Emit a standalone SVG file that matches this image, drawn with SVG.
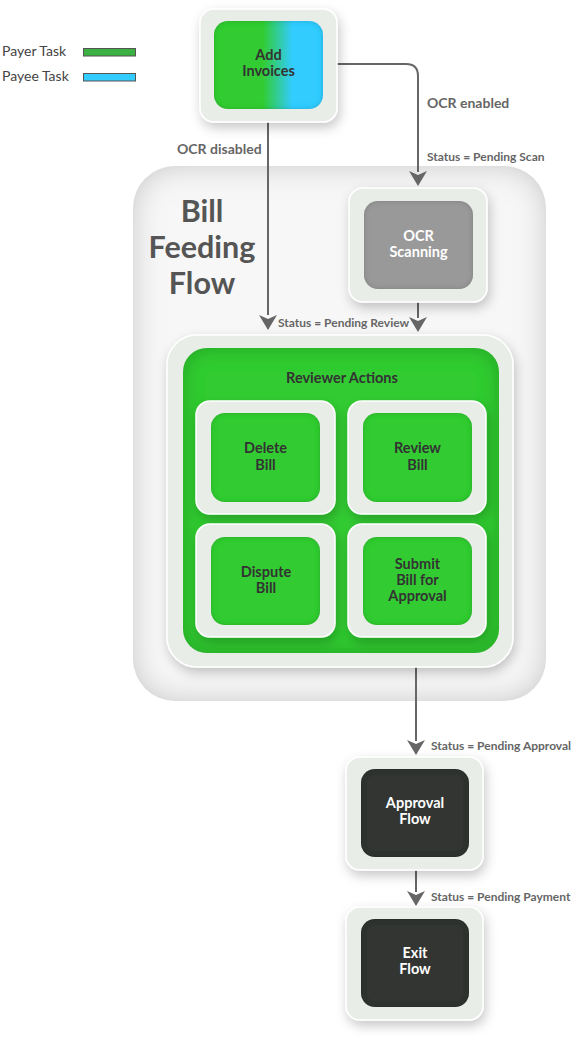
<svg xmlns="http://www.w3.org/2000/svg" width="572" height="1057" viewBox="0 0 572 1057">
<defs>
  <linearGradient id="addGrad" x1="0" y1="0" x2="1" y2="0">
    <stop offset="0.45" stop-color="#33cc33"/>
    <stop offset="0.72" stop-color="#33ccff"/>
  </linearGradient>
  <filter id="drop" x="-30%" y="-30%" width="160%" height="160%">
    <feDropShadow dx="2" dy="5" stdDeviation="6" flood-color="#000" flood-opacity="0.22"/>
  </filter>
  <filter id="inner" x="-10%" y="-10%" width="120%" height="120%">
    <feFlood flood-color="#000" flood-opacity="0.35"/>
    <feComposite in2="SourceAlpha" operator="out"/>
    <feGaussianBlur stdDeviation="2.5"/>
    <feComposite in2="SourceAlpha" operator="in" result="sh"/>
    <feMerge><feMergeNode in="SourceGraphic"/><feMergeNode in="sh"/></feMerge>
  </filter>
  <filter id="innerBig" x="-10%" y="-10%" width="120%" height="120%">
    <feFlood flood-color="#000" flood-opacity="0.42"/>
    <feComposite in2="SourceAlpha" operator="out"/>
    <feGaussianBlur stdDeviation="10"/>
    <feComposite in2="SourceAlpha" operator="in" result="sh"/>
    <feMerge><feMergeNode in="SourceGraphic"/><feMergeNode in="sh"/></feMerge>
  </filter>
  <filter id="container" x="-10%" y="-10%" width="120%" height="120%">
    <feFlood flood-color="#000" flood-opacity="0.4"/>
    <feComposite in2="SourceAlpha" operator="out"/>
    <feGaussianBlur stdDeviation="15"/>
    <feComposite in2="SourceAlpha" operator="in" result="sh"/>
    <feMerge><feMergeNode in="SourceGraphic"/><feMergeNode in="sh"/></feMerge>
  </filter>
  <style>
    .outer { fill: #e9ede8; stroke: #ffffff; stroke-width: 1.5; }
    .lbl { font-family: Lato, "Liberation Sans", sans-serif; font-weight: bold; font-size: 14.5px; fill: #333; text-anchor: middle; }
    .wlbl { font-family: Lato, "Liberation Sans", sans-serif; font-weight: bold; font-size: 14.5px; fill: #fff; text-anchor: middle; }
    .clbl { font-family: Lato, "Liberation Sans", sans-serif; font-weight: bold; font-size: 14px; fill: #666; }
    .slbl { font-family: Lato, "Liberation Sans", sans-serif; font-weight: bold; font-size: 12px; fill: #666; }
    .leg { font-family: Lato, "Liberation Sans", sans-serif; font-size: 14px; fill: #444; }
    .big { font-family: Lato, "Liberation Sans", sans-serif; font-weight: bold; font-size: 30.5px; fill: #555; text-anchor: middle; }
    .conn { fill: none; stroke: #666; stroke-width: 2; }
    .head { fill: #666; }
    .green { fill: #33cc33; }
    .dark { fill: #333632; }
  </style>
</defs>

<g id="legend">
  <text class="leg" x="2" y="56">Payer Task</text>
  <rect x="83.5" y="48.5" width="52" height="7.5" fill="#3cb043" stroke="#555" stroke-width="1"/>
  <text class="leg" x="2" y="81">Payee Task</text>
  <rect x="83.5" y="73.5" width="52" height="7.5" fill="#33ccff" stroke="#555" stroke-width="1"/>
</g>

<g id="bill-feeding-flow">
  <rect x="133" y="166" width="413" height="535" rx="42" fill="#f7f7f7" filter="url(#container)"/>
  <text class="big" x="202" y="222">Bill</text>
  <text class="big" x="202" y="258">Feeding</text>
  <text class="big" x="202" y="294">Flow</text>
</g>

<g id="connectors">
  <path class="conn" d="M268,122 V315"/>
  <path class="head" d="M259,315 L268,319 L277,315 L268,330 Z"/>
  <path class="conn" d="M337,64 H406 Q418,64 418,76 V172"/>
  <path class="head" d="M409,171 L418,175 L427,171 L418,186 Z"/>
  <path class="conn" d="M418,302 V318"/>
  <path class="head" d="M409,317 L418,321 L427,317 L418,332 Z"/>
  <path class="conn" d="M416,637 V741"/>
  <path class="head" d="M407,740 L416,744 L425,740 L416,755 Z"/>
  <path class="conn" d="M416,870 V892"/>
  <path class="head" d="M407,891 L416,895 L425,891 L416,906 Z"/>
  <text class="clbl" x="177" y="154">OCR disabled</text>
  <text class="clbl" x="427" y="108">OCR enabled</text>
  <text class="slbl" x="427" y="161">Status = Pending Scan</text>
  <text class="slbl" x="278" y="327">Status = Pending Review</text>
  <text class="slbl" x="431" y="750">Status = Pending Approval</text>
  <text class="slbl" x="431" y="901">Status = Pending Payment</text>
</g>

<g id="add-invoices">
  <rect class="outer" x="200" y="9" width="137" height="113" rx="14" filter="url(#drop)"/>
  <rect x="214" y="21" width="109" height="88" rx="14" fill="url(#addGrad)" filter="url(#inner)"/>
  <text class="lbl" x="268.5" y="60">Add</text>
  <text class="lbl" x="268.5" y="76">Invoices</text>
</g>

<g id="ocr-scanning">
  <rect class="outer" x="349" y="188" width="138" height="114" rx="14" filter="url(#drop)"/>
  <rect x="364" y="201" width="109" height="88" rx="14" fill="#999999" filter="url(#inner)"/>
  <text class="wlbl" x="418.5" y="241">OCR</text>
  <text class="wlbl" x="418.5" y="257">Scanning</text>
</g>

<g id="reviewer-actions">
  <rect class="outer" x="167" y="335" width="346" height="332" rx="30" filter="url(#drop)"/>
  <rect x="183" y="348" width="316" height="305" rx="24" fill="#33cc33" filter="url(#innerBig)"/>
  <text class="lbl" x="342" y="383">Reviewer Actions</text>
</g>

<g id="delete-bill">
  <rect class="outer" x="196" y="401" width="139" height="113" rx="14" filter="url(#drop)"/>
  <rect x="211" y="413" width="109" height="89" rx="14" class="green" filter="url(#inner)"/>
  <text class="lbl" x="265.5" y="453">Delete</text>
  <text class="lbl" x="265.5" y="470">Bill</text>
</g>

<g id="review-bill">
  <rect class="outer" x="348" y="401" width="138" height="113" rx="14" filter="url(#drop)"/>
  <rect x="363" y="413" width="109" height="89" rx="14" class="green" filter="url(#inner)"/>
  <text class="lbl" x="417.5" y="453">Review</text>
  <text class="lbl" x="417.5" y="470">Bill</text>
</g>

<g id="dispute-bill">
  <rect class="outer" x="196" y="524" width="139" height="113" rx="14" filter="url(#drop)"/>
  <rect x="211" y="537" width="109" height="88" rx="14" class="green" filter="url(#inner)"/>
  <text class="lbl" x="266" y="577">Dispute</text>
  <text class="lbl" x="266" y="593">Bill</text>
</g>

<g id="submit-bill">
  <rect class="outer" x="348" y="524" width="138" height="113" rx="14" filter="url(#drop)"/>
  <rect x="363" y="537" width="109" height="88" rx="14" class="green" filter="url(#inner)"/>
  <text class="lbl" x="417.5" y="569">Submit</text>
  <text class="lbl" x="417.5" y="585">Bill for</text>
  <text class="lbl" x="417.5" y="601">Approval</text>
</g>

<g id="approval-flow">
  <rect class="outer" x="346" y="757" width="137" height="113" rx="14" filter="url(#drop)"/>
  <rect x="361" y="769" width="108" height="88" rx="14" class="dark" filter="url(#inner)"/>
  <text class="wlbl" x="415" y="808">Approval</text>
  <text class="wlbl" x="415" y="824">Flow</text>
</g>

<g id="exit-flow">
  <rect class="outer" x="346" y="907" width="137" height="113" rx="14" filter="url(#drop)"/>
  <rect x="361" y="919" width="108" height="88" rx="14" class="dark" filter="url(#inner)"/>
  <text class="wlbl" x="415" y="958">Exit</text>
  <text class="wlbl" x="415" y="974">Flow</text>
</g>
</svg>
